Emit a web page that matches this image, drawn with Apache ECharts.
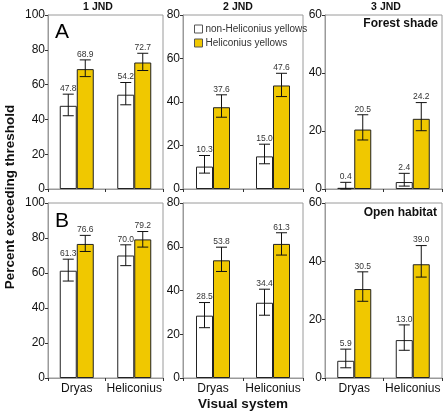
<!DOCTYPE html>
<html>
<head>
<meta charset="utf-8">
<script src="https://cdn.jsdelivr.net/npm/echarts@6/dist/echarts.min.js"></script>
<style>
html,body{margin:0;padding:0;background:#fff;}
#chart{width:446px;height:412px;}
</style>
</head>
<body>
<div id="chart"></div>
<script>
// ---- data ----
const categories = ['Dryas', 'Heliconius'];
const jndTitles = ['1 JND', '2 JND', '3 JND'];
const habitatTitles = ['Forest shade', 'Open habitat'];
const panelLetters = ['A', 'B'];
const seriesNames = ['non-Heliconius yellows', 'Heliconius yellows'];
const yMax = [100, 80, 60];
const yInterval = 20;

// values per JND level: [Dryas, Heliconius]
const forestNon   = [[47.8, 54.2], [10.3, 15.0], [0.4, 2.4]];
const forestNonLo = [[42.1, 48.4], [7.3, 11.6], [0.0, 1.0]];
const forestNonHi = [[54.5, 61.2], [15.4, 20.6], [2.3, 5.4]];
const forestHel   = [[68.9, 72.7], [37.6, 47.6], [20.5, 24.2]];
const forestHelLo = [[64.6, 68.1], [33.0, 42.5], [16.9, 20.1]];
const forestHelHi = [[74.2, 78.0], [43.3, 53.2], [25.6, 29.8]];

const openNon   = [[61.3, 70.0], [28.5, 34.4], [5.9, 13.0]];
const openNonLo = [[55.4, 64.2], [23.0, 28.7], [3.5, 9.5]];
const openNonHi = [[67.9, 76.1], [34.5, 40.6], [9.9, 18.2]];
const openHel   = [[76.6, 79.2], [53.8, 61.3], [30.5, 39.0]];
const openHelLo = [[72.3, 74.8], [48.7, 56.2], [26.3, 34.6]];
const openHelHi = [[81.5, 83.7], [59.8, 66.4], [36.4, 45.4]];

// ---- layout / style ----
const FONT = "'Liberation Sans', Arial, sans-serif";
const GOLD = '#F0C800';
const colLeft = [48, 183, 325];
const colWidth = [115, 120, 117];
const rowTop = [15, 203];
const rowHeight = [174, 175];
const BAR_W = 17;

const rows = [
  {vals: [forestNon, forestHel], lo: [forestNonLo, forestHelLo], hi: [forestNonHi, forestHelHi]},
  {vals: [openNon, openHel], lo: [openNonLo, openHelLo], hi: [openNonHi, openHelHi]}
];

const grid = [], xAxis = [], yAxis = [], series = [];
let idx = 0;
for (let r = 0; r < 2; r++) {
  for (let c = 0; c < 3; c++) {
    grid.push({left: colLeft[c], top: rowTop[r], width: colWidth[c], height: rowHeight[r],
      show: true, borderColor: '#9a9a9a', borderWidth: 1, containLabel: false});
    xAxis.push({type: 'category', gridIndex: idx, data: categories,
      axisLine: {show: true, lineStyle: {color: '#9a9a9a'}},
      axisTick: {show: true, length: 3, alignWithLabel: false, lineStyle: {color: '#333'}},
      axisLabel: {show: r === 1, interval: 0, fontSize: 12, color: '#111', fontFamily: FONT, margin: 5},
      splitLine: {show: false}});
    yAxis.push({type: 'value', gridIndex: idx, min: 0, max: yMax[c], interval: yInterval,
      axisLine: {show: true, lineStyle: {color: '#9a9a9a'}},
      axisTick: {show: true, length: 3, lineStyle: {color: '#333'}},
      axisLabel: {fontSize: 12, color: '#111', fontFamily: FONT, margin: 3},
      splitLine: {show: false}});
    for (let s = 0; s < 2; s++) {
      series.push({type: 'bar', name: seriesNames[s], xAxisIndex: idx, yAxisIndex: idx,
        data: rows[r].vals[s][c], barWidth: BAR_W, barGap: '0%',
        itemStyle: {color: s === 0 ? '#ffffff' : GOLD, borderColor: '#222', borderWidth: 1},
        emphasis: {disabled: true}, silent: true, z: 2});
    }
    for (let s = 0; s < 2; s++) {
      const d = categories.map((cat, k) => [k, rows[r].lo[s][c][k], rows[r].hi[s][c][k], rows[r].vals[s][c][k]]);
      const off = s === 0 ? -BAR_W / 2 : BAR_W / 2;
      series.push({type: 'custom', xAxisIndex: idx, yAxisIndex: idx, data: d, z: 5, silent: true,
        renderItem: function (params, api) {
          const top = api.coord([api.value(0), api.value(2)]);
          const bot = api.coord([api.value(0), api.value(1)]);
          const x = top[0] + off;
          const cap = 5.5;
          const ls = {stroke: '#111', lineWidth: 1};
          return {type: 'group', children: [
            {type: 'line', shape: {x1: x, y1: top[1], x2: x, y2: bot[1]}, style: ls},
            {type: 'line', shape: {x1: x - cap, y1: top[1], x2: x + cap, y2: top[1]}, style: ls},
            {type: 'line', shape: {x1: x - cap, y1: bot[1], x2: x + cap, y2: bot[1]}, style: ls},
            {type: 'text', style: {text: api.value(3).toFixed(1), x: x, y: top[1] - 1,
              textAlign: 'center', textVerticalAlign: 'bottom', fontSize: 8.5, fill: '#333', fontFamily: FONT}}
          ]};
        }});
    }
    idx++;
  }
}

const titleX = [98, 238, 386];
const graphic = [];
jndTitles.forEach((t, i) => graphic.push({type: 'text', x: titleX[i], y: 7,
  style: {text: t, textAlign: 'center', textVerticalAlign: 'middle', font: 'bold 10.5px ' + FONT, fill: '#111'}}));
graphic.push({type: 'text', x: 55, y: 32, style: {text: panelLetters[0], textAlign: 'left', textVerticalAlign: 'middle', font: '21px ' + FONT, fill: '#000'}});
graphic.push({type: 'text', x: 55, y: 221, style: {text: panelLetters[1], textAlign: 'left', textVerticalAlign: 'middle', font: '21px ' + FONT, fill: '#000'}});
graphic.push({type: 'text', x: 438, y: 24, style: {text: habitatTitles[0], textAlign: 'right', textVerticalAlign: 'middle', font: 'bold 12px ' + FONT, fill: '#111'}});
graphic.push({type: 'text', x: 437, y: 213, style: {text: habitatTitles[1], textAlign: 'right', textVerticalAlign: 'middle', font: 'bold 12px ' + FONT, fill: '#111'}});
graphic.push({type: 'text', x: 10, y: 197, rotation: Math.PI / 2,
  style: {text: 'Percent exceeding threshold', textAlign: 'center', textVerticalAlign: 'middle', font: 'bold 13.5px ' + FONT, fill: '#111'}});
graphic.push({type: 'text', x: 243, y: 404,
  style: {text: 'Visual system', textAlign: 'center', textVerticalAlign: 'middle', font: 'bold 13.5px ' + FONT, fill: '#111'}});

const chart = echarts.init(document.getElementById('chart'), null, {renderer: 'canvas'});
chart.setOption({
  animation: false,
  backgroundColor: '#fff',
  grid, xAxis, yAxis, series, graphic,
  legend: {data: seriesNames, orient: 'vertical', left: 189, top: 19, icon: 'rect',
    itemWidth: 8, itemHeight: 8, itemGap: 4,
    itemStyle: {borderColor: '#555', borderWidth: 1},
    textStyle: {fontSize: 10, color: '#333', fontFamily: FONT, padding: [0, 0, 0, -2]},
    selectedMode: false}
});
</script>
</body>
</html>
